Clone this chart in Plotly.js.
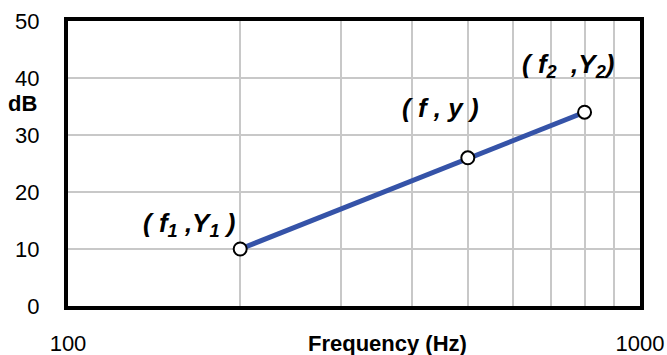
<!DOCTYPE html>
<html>
<head>
<meta charset="utf-8">
<script src="https://cdn.plot.ly/plotly-3.0.1.min.js"></script>
<style>html,body{margin:0;padding:0;background:#fff;}</style>
</head>
<body>
<div id="graph" style="width:667px;height:355px;"></div>
<script>
var freq = [200, 500, 800];
var level = [10, 26, 34];
var pointLabels = [
  '(&nbsp;f<sub>1</sub>&nbsp;,Y<sub>1</sub>&nbsp;)',
  '(&nbsp;f&nbsp;,&nbsp;y&nbsp;)',
  '(&nbsp;f<sub>2</sub>&nbsp;&nbsp;,Y<sub>2</sub>)'
];
var labelShiftX = [-51, -27, -17];
var labelShiftY = [25, 50, 47];
var xTickVals = [100, 200, 300, 400, 500, 600, 700, 800, 900, 1000];
var xTickText = ['100', '', '', '', '', '', '', '', '', '1000'];

var FONT = 'Liberation Sans, Arial, sans-serif';
graphDiv = document.getElementById('graph');

var trace = {
  x: freq,
  y: level,
  type: 'scatter',
  mode: 'lines+markers',
  line: {color: '#3553a8', width: 5},
  marker: {size: 13, color: '#ffffff', line: {color: '#000000', width: 2}},
  cliponaxis: false,
  hoverinfo: 'skip'
};

var annotations = [];
for (var i = 0; i < freq.length; i++) {
  annotations.push({
    x: Math.log10(freq[i]),
    y: level[i],
    xref: 'x', yref: 'y',
    text: '<b><i>' + pointLabels[i] + '</i></b>',
    showarrow: false,
    xshift: labelShiftX[i],
    yshift: labelShiftY[i],
    font: {family: FONT, size: 26, color: '#000'}
  });
}
// axis titles placed where the reference has them
annotations.push({
  xref: 'paper', yref: 'paper', x: 0.558, y: -0.13,
  xanchor: 'center', yanchor: 'middle',
  text: '<b>Frequency (Hz)</b>', showarrow: false,
  font: {family: FONT, size: 22, color: '#000'}
});
annotations.push({
  xref: 'paper', yref: 'paper', x: -0.08, y: 0.712,
  xanchor: 'center', yanchor: 'middle',
  text: '<b>dB</b>', showarrow: false,
  font: {family: FONT, size: 22, color: '#000'}
});

var layout = {
  width: 667,
  height: 355,
  margin: {l: 68, r: 27, t: 21, b: 49},
  paper_bgcolor: '#ffffff',
  plot_bgcolor: '#ffffff',
  showlegend: false,
  font: {family: FONT, size: 22, color: '#000'},
  xaxis: {
    type: 'log',
    range: [2, 3],
    tickvals: xTickVals,
    ticktext: xTickText,
    ticks: '',
    ticklabelstandoff: 15,
    showgrid: true,
    gridcolor: '#c8c8c8',
    gridwidth: 2,
    showline: true,
    linecolor: '#000',
    linewidth: 4,
    mirror: true,
    zeroline: false
  },
  yaxis: {
    range: [0, 50],
    dtick: 10,
    ticks: '',
    ticklabelstandoff: 20,
    showgrid: true,
    gridcolor: '#c8c8c8',
    gridwidth: 2,
    showline: true,
    linecolor: '#000',
    linewidth: 4,
    mirror: true,
    zeroline: false
  },
  annotations: annotations
};

Plotly.newPlot(graphDiv, [trace], layout, {staticPlot: true});
</script>
</body>
</html>
